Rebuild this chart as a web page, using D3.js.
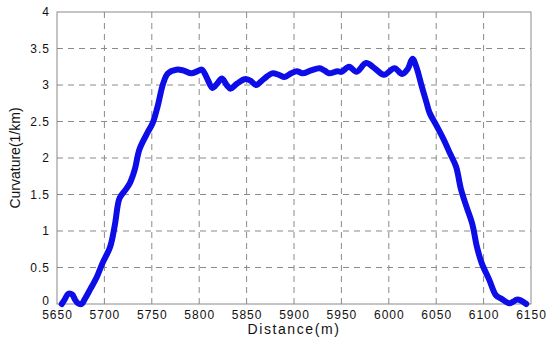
<!DOCTYPE html>
<html>
<head>
<meta charset="utf-8">
<script src="https://cdn.jsdelivr.net/npm/d3@7"></script>
<style>
  body { margin: 0; background: #fff; }
  svg { display: block; font-family: "Liberation Sans", Arial, sans-serif; }
</style>
</head>
<body>
<svg id="chart" width="550" height="340"></svg>
<script>
// distance (m) and curvature (1/km)
const distance = [5655, 5658, 5662, 5666, 5669, 5672, 5676, 5679, 5685, 5692, 5698, 5706, 5711, 5716,
    5722, 5727, 5732, 5737, 5746, 5751, 5756, 5762, 5767, 5776, 5783, 5792, 5800, 5803,
    5808, 5814, 5819, 5824, 5829, 5833, 5840, 5848, 5854, 5860, 5868, 5877, 5884, 5890,
    5897, 5903, 5909, 5918, 5927, 5932, 5937, 5946, 5950, 5958, 5966, 5976, 5985, 5995,
    6006, 6014, 6020, 6025, 6029, 6035, 6040, 6043, 6050, 6058, 6065, 6071, 6076, 6082,
    6088, 6093, 6098, 6106, 6113, 6119, 6127, 6131, 6135, 6139, 6145];
const curvature = [0.0, 0.06, 0.14, 0.13, 0.06, 0.01, 0.0, 0.06, 0.2, 0.37, 0.56, 0.78, 1.08, 1.45,
    1.56, 1.66, 1.84, 2.12, 2.36, 2.48, 2.7, 3.02, 3.16, 3.21, 3.2, 3.16, 3.2, 3.21,
    3.1, 2.96, 3.02, 3.09, 3.0, 2.95, 3.02, 3.08, 3.06, 3.0, 3.08, 3.16, 3.14, 3.11,
    3.16, 3.19, 3.16, 3.2, 3.23, 3.2, 3.16, 3.19, 3.18, 3.25, 3.18, 3.3, 3.23, 3.14,
    3.23, 3.15, 3.22, 3.36, 3.25, 2.97, 2.75, 2.62, 2.45, 2.25, 2.05, 1.88, 1.58, 1.33,
    1.1, 0.78, 0.56, 0.33, 0.12, 0.07, 0.01, 0.03, 0.06, 0.05, 0.0];
const xTicks = [5650, 5700, 5750, 5800, 5850, 5900, 5950, 6000, 6050, 6100, 6150];
const yTicks = [0, 0.5, 1, 1.5, 2, 2.5, 3, 3.5, 4];

const data = distance.map((d, i) => ({ x: d, y: curvature[i] }));

const margin = { left: 57, right: 19, top: 12, bottom: 36 };
const width = 550, height = 340;
const svg = d3.select("#chart");

const xScale = d3.scaleLinear()
    .domain([5650, 6150])
    .range([margin.left, width - margin.right]);

const yScale = d3.scaleLinear()
    .domain([0, 4])
    .range([height - margin.bottom, margin.top]);

const gridColor = "#8a8a8a";

// dashed grid
svg.append("g")
    .selectAll("line")
    .data(xTicks.slice(1, -1))
    .join("line")
    .attr("x1", d => xScale(d)).attr("x2", d => xScale(d))
    .attr("y1", yScale(0)).attr("y2", yScale(4))
    .style("stroke", gridColor)
    .style("stroke-dasharray", "6,5");

svg.append("g")
    .selectAll("line")
    .data(yTicks.slice(1, -1))
    .join("line")
    .attr("x1", xScale(5650)).attr("x2", xScale(6150))
    .attr("y1", d => yScale(d)).attr("y2", d => yScale(d))
    .style("stroke", gridColor)
    .style("stroke-dasharray", "6,5");

// frame
svg.append("rect")
    .attr("x", xScale(5650))
    .attr("y", yScale(4))
    .attr("width", xScale(6150) - xScale(5650))
    .attr("height", yScale(0) - yScale(4))
    .style("fill", "none")
    .style("stroke", gridColor);

// axes (text only, frame drawn above)
let xAxis = d3.axisBottom(xScale).tickValues(xTicks).tickSize(0).tickPadding(6).tickFormat(d3.format("d"));
let yAxis = d3.axisLeft(yScale).tickValues(yTicks).tickSize(0).tickPadding(7).tickFormat(d => d);

svg.append("g")
    .attr("class", "x-axis")
    .attr("transform", `translate(0, ${yScale(0)})`)
    .call(xAxis);

svg.append("g")
    .attr("class", "y-axis")
    .attr("transform", `translate(${xScale(5650)}, 0)`)
    .call(yAxis);

svg.selectAll(".x-axis .domain, .y-axis .domain").remove();
svg.selectAll(".x-axis text, .y-axis text")
    .style("font-family", "'Liberation Sans', Arial, sans-serif")
    .style("font-size", "12px")
    .style("letter-spacing", "1px")
    .style("fill", "#111");
// the zero label sits higher so it clears the 5650 label
svg.selectAll(".y-axis .tick text").filter(d => d === 0).attr("dy", "0em");

// curve
let line = d3.line()
    .x(p => xScale(p.x))
    .y(p => yScale(p.y))
    .curve(d3.curveCatmullRom.alpha(0.5));

svg.append("path")
    .datum(data)
    .attr("d", line)
    .style("fill", "none")
    .style("stroke", "#0d0de8")
    .style("stroke-width", 6)
    .style("stroke-linejoin", "round")
    .style("stroke-linecap", "round");

// axis titles
svg.append("text")
    .attr("x", (xScale(5650) + xScale(6150)) / 2)
    .attr("y", 334)
    .attr("text-anchor", "middle")
    .style("font-size", "14px")
    .style("letter-spacing", "1.6px")
    .style("fill", "#111")
    .text("Distance(m)");

svg.append("text")
    .attr("transform", `translate(20, ${(yScale(0) + yScale(4)) / 2}) rotate(-90)`)
    .attr("text-anchor", "middle")
    .style("font-size", "14px")
    .style("fill", "#111")
    .text("Curvature(1/km)");
</script>
</body>
</html>
